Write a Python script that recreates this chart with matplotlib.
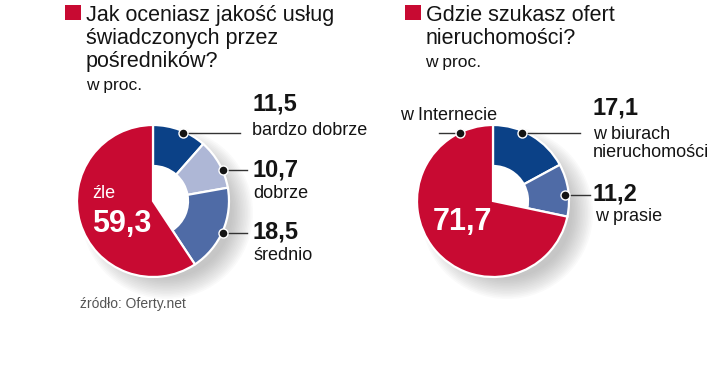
import matplotlib.pyplot as plt
from matplotlib.patches import Circle, Rectangle

# data
quality_labels = ["bardzo dobrze", "dobrze", "średnio", "źle"]
quality_values = [11.5, 10.7, 18.5, 59.3]
source_labels = ["w biurach\nnieruchomości", "w prasie", "w Internecie"]
source_values = [17.1, 11.2, 71.7]

RED = "#C80A32"
DARK = "#0B4187"
LIGHT = "#AEB7D6"
MID = "#4F6BA6"
INK = "#141414"

W, H = 720, 386
FONT = "Liberation Sans"


def Y(y):
    # pixel rows are measured top-down
    return H - y


def fmt(v):
    return f"{v:.1f}".replace(".", ",")


def donut(ax, values, colors, cx, cy, r=76, hole=35):
    # soft shadow to the lower right
    for i in range(14):
        ax.add_patch(Circle((cx + 14, Y(cy + 12)), r + 10 - i * 1.6,
                            color="#7a7a7a", alpha=0.035, lw=0, zorder=1))
    # keep the hole clean of the shadow
    ax.add_patch(Circle((cx, Y(cy)), r, color="white", lw=0, zorder=1.5))
    wedges, _ = ax.pie(values, colors=colors, startangle=90, counterclock=False,
                       center=(cx, Y(cy)), radius=r,
                       wedgeprops=dict(edgecolor="white", linewidth=1.6))
    for w in wedges[:-1]:
        w.set_width(r - hole)
    for w in wedges:
        w.set_zorder(2)
    return wedges


def leader(ax, x0, x1, y, dot_x):
    ax.plot([x0, x1], [Y(y), Y(y)], color="#333333", lw=1, zorder=3)
    ax.plot(dot_x, Y(y), "o", ms=6.5, mfc=INK, mec="white", mew=1, zorder=4)


def title(ax, x, y, lines):
    ax.add_patch(Rectangle((x, Y(20)), 16, 15, color=RED, lw=0))
    for i, line in enumerate(lines):
        ax.text(x + 21, Y(y + i * 23), line, fontsize=15.5, color=INK,
                family=FONT, va="baseline")


fig = plt.figure(figsize=(W / 100, H / 100), dpi=100)
ax = fig.add_axes([0, 0, 1, 1])

# left chart
donut(ax, quality_values, [DARK, LIGHT, MID, RED], 153, 201)
title(ax, 65, 21, ["Jak oceniasz jakość usług", "świadczonych przez", "pośredników?"])
ax.text(86, Y(90), "w proc.", fontsize=12.5, color=INK, family=FONT)

leader(ax, 183, 240, 133, 183)
leader(ax, 223, 247, 170, 223)
leader(ax, 223, 247, 233, 223)
num_pos = [(252, 111, 135), (253, 177, 198), (253, 238, 260)]
for (x, yn, yl), v, lab in zip(num_pos, quality_values, quality_labels):
    ax.text(x, Y(yn), fmt(v), fontsize=17, weight="bold", color=INK, family=FONT)
    ax.text(x, Y(yl), lab, fontsize=13, color=INK, family=FONT)
ax.text(92, Y(198), quality_labels[3], fontsize=13, color="white", family=FONT, zorder=5)
ax.text(92, Y(232), fmt(quality_values[3]), fontsize=22, weight="bold",
        color="white", family=FONT, zorder=5)
ax.text(80, Y(308), "źródło: Oferty.net", fontsize=10, color="#555555", family=FONT)

# right chart
donut(ax, source_values, [DARK, MID, RED], 493, 201)
title(ax, 405, 21, ["Gdzie szukasz ofert", "nieruchomości?"])
ax.text(425, Y(67), "w proc.", fontsize=12.5, color=INK, family=FONT)

leader(ax, 522, 580, 133, 522)
leader(ax, 565, 590, 195, 565)
leader(ax, 439, 460, 133, 460)
ax.text(593, Y(114), fmt(source_values[0]), fontsize=17, weight="bold", color=INK, family=FONT)
ax.text(593, Y(157), source_labels[0], fontsize=13, color=INK, family=FONT, linespacing=1.1)
ax.text(593, Y(201), fmt(source_values[1]), fontsize=17, weight="bold", color=INK, family=FONT)
ax.text(595, Y(221), source_labels[1], fontsize=13, color=INK, family=FONT)
ax.text(497, Y(120), source_labels[2], fontsize=13, color=INK, family=FONT, ha="right")
ax.text(433, Y(230), fmt(source_values[2]), fontsize=22, weight="bold",
        color="white", family=FONT, zorder=5)

ax.set_xlim(0, W)
ax.set_ylim(0, H)
ax.set_aspect("auto")
ax.axis("off")

fig.savefig("out.png", dpi=100)
plt.close(fig)
